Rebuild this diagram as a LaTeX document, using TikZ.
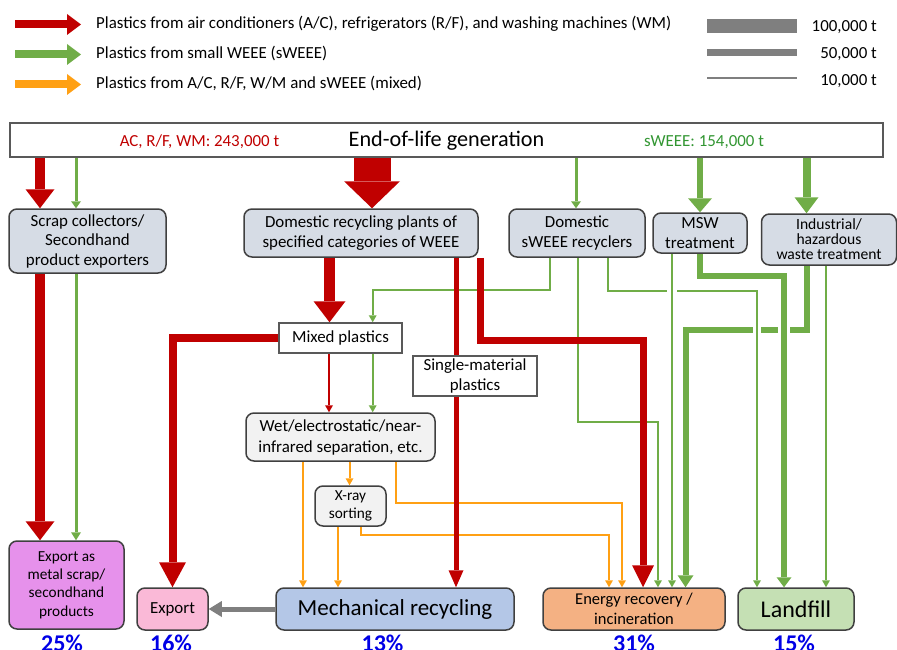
\documentclass[tikz,border=0pt]{standalone}
\usepackage{fontspec}
\setmainfont{Carlito}
\usetikzlibrary{arrows.meta}
\pgfdeclarelayer{flows}
\pgfsetlayers{flows,main}

\definecolor{flowred}{RGB}{192,0,0}
\definecolor{flowgreen}{RGB}{112,173,71}
\definecolor{floworange}{RGB}{255,160,20}
\definecolor{flowgray}{RGB}{127,127,127}
\definecolor{boxgray}{RGB}{214,220,229}
\definecolor{lightbox}{RGB}{242,242,242}
\definecolor{edgegray}{RGB}{64,64,64}
\definecolor{framegray}{RGB}{89,89,89}
\definecolor{metalviolet}{RGB}{230,145,235}
\definecolor{exportpink}{RGB}{250,185,215}
\definecolor{mechblue}{RGB}{180,199,231}
\definecolor{energyorange}{RGB}{244,177,131}
\definecolor{landgreen}{RGB}{197,224,180}
\definecolor{pctblue}{RGB}{0,0,230}
\definecolor{labelgreen}{RGB}{50,150,50}

\newcommand\fsz[2]{\fontsize{#1}{#2}\selectfont}

\tikzset{
  x=1pt, y=-1pt,
  stage/.style={draw=edgegray, line width=1.5pt, rounded corners=8pt, fill=boxgray,
    align=center, inner sep=2pt, font=\fsz{16.9}{20}},
  plainbox/.style={draw=framegray, line width=1.5pt, fill=white, align=center,
    inner sep=2pt, font=\fsz{16.9}{20}},
  pct/.style={text=pctblue, font=\fsz{24}{28}\bfseries, anchor=base, inner sep=0pt},
  legtext/.style={font=\fsz{16.9}{20}, inner sep=0pt},
  fr/.style={draw=flowred, line width=#1},
  fg/.style={draw=flowgreen, line width=#1},
  fo/.style={draw=floworange, line width=2pt, -{Triangle[width=8pt,length=7pt,line width=0pt]}},
  ahead/.style 2 args={-{Triangle[width=#1,length=#2,line width=0pt]}},
  bridge/.style={preaction={draw=white, line width=#1, arrows=-}},
}

\begin{document}
\begin{tikzpicture}
\useasboundingbox (0,0) rectangle (897,650);

% legend: flow colours
\draw[flowred, line width=8pt, ahead={21pt}{14pt}] (15,24.5) -- (81,24.5);
\draw[flowgreen, line width=8pt, ahead={21pt}{14pt}] (15,54.5) -- (81,54.5);
\draw[floworange, line width=8pt, ahead={21pt}{14pt}] (15,84.5) -- (81,84.5);
\node[legtext, anchor=base west] (legA) at (96,29) {Plastics from air conditioners (A/C), refrigerators (R/F), and washing machines (WM)};
\node[legtext, anchor=base west] (legB) at (96,59) {Plastics from small WEEE (sWEEE)};
\node[legtext, anchor=base west] (legC) at (96,89) {Plastics from A/C, R/F, W/M and sWEEE (mixed)};

% legend: flow widths
\fill[flowgray] (707,19) rectangle (797,33);
\fill[flowgray] (707,49) rectangle (797,56);
\fill[flowgray] (707,77.5) rectangle (797,79.5);
\node[legtext, anchor=base east] (w100) at (877,32) {100,000 t};
\node[legtext, anchor=base east] (w50) at (877,58.5) {50,000 t};
\node[legtext, anchor=base east] (w10) at (877,86) {10,000 t};

% generation bar
\node[draw=framegray, line width=1.5pt, fill=white, minimum width=873pt, minimum height=34pt] (top) at (446.5,140) {};
\node[font=\fsz{22.2}{26}, anchor=base, inner sep=0pt] (eol) at (446.5,147) {End-of-life generation};
\node[legtext, text=flowred, anchor=base] (acl) at (199.5,147) {AC, R/F, WM: 243,000 t};
\node[legtext, text=labelgreen, anchor=base] (swl) at (704,147) {sWEEE: 154,000 t};

% collection and treatment
\node[stage, minimum width=157pt, minimum height=64pt, font=\fsz{16.9}{19.5}] (scrap) at (87.5,241) {Scrap collectors/\\Secondhand\\product exporters};
\node[stage, minimum width=234pt, minimum height=48pt] (drp) at (361,233) {Domestic recycling plants of\\specified categories of WEEE};
\node[stage, minimum width=136pt, minimum height=48pt, font=\fsz{16.9}{20.5}] (dsr) at (577,233) {Domestic\\sWEEE recyclers};
\node[stage, minimum width=94pt, minimum height=40pt, font=\fsz{16.9}{20.5}] (msw) at (700,233) {MSW\\treatment};
\node[stage, minimum width=135pt, minimum height=51pt, font=\fsz{15.6}{15}] (ind) at (829,239.5) {Industrial/\\hazardous\\waste treatment};

% sorting stages
\node[plainbox, minimum width=123pt, minimum height=30pt] (mixed) at (340.5,338) {Mixed plastics};
\node[plainbox, minimum width=124pt, minimum height=40pt] (single) at (475,376) {Single-material\\plastics};
\node[stage, fill=lightbox, minimum width=189pt, minimum height=48pt, font=\fsz{16.9}{21}] (wet) at (340.5,437) {Wet/electrostatic/near-\\infrared separation, etc.};
\node[stage, fill=lightbox, minimum width=71pt, minimum height=40pt, font=\fsz{15.3}{17.5}] (xray) at (350.5,506) {X-ray\\sorting};

% final destinations
\node[stage, fill=metalviolet, minimum width=115pt, minimum height=88pt, font=\fsz{15.3}{18.3}] (metal) at (66.5,585) {Export as\\metal scrap/\\secondhand\\products};
\node[stage, fill=exportpink, minimum width=71pt, minimum height=42pt] (export) at (172.5,609) {Export};
\node[stage, fill=mechblue, minimum width=238pt, minimum height=42pt, font=\fsz{23}{26}] (mech) at (395,609) {Mechanical recycling};
\node[stage, fill=energyorange, minimum width=182pt, minimum height=42pt, font=\fsz{16.5}{20}] (energy) at (634,609) {Energy recovery /\\incineration};
\node[stage, fill=landgreen, minimum width=116pt, minimum height=42pt, font=\fsz{24}{26}] (landfill) at (796,609) {Landfill};

% shares
\node[pct] (p1) at (62,651) {25\%};
\node[pct] (p2) at (171,651) {16\%};
\node[pct] (p3) at (382.5,651) {13\%};
\node[pct] (p4) at (634,651) {31\%};
\node[pct] (p5) at (794,651) {15\%};

\begin{pgfonlayer}{flows}
  % generation to collection
  \draw[fr=10pt, ahead={29pt}{19pt}] (40,0 |- top.south) -- (40,0 |- scrap.north);
  \draw[fg=3pt, ahead={10pt}{7pt}] (76,0 |- top.south) -- (76,0 |- scrap.north);
  \draw[fr=37pt, ahead={56pt}{27pt}] (372,0 |- top.south) -- (372,0 |- drp.north);
  \draw[fg=3pt, ahead={10pt}{7pt}] (576,0 |- top.south) -- (576,0 |- dsr.north);
  \draw[fg=6pt, ahead={24pt}{14pt}] (700,0 |- top.south) -- (700,0 |- msw.north);
  \draw[fg=8pt, ahead={24pt}{16pt}] (806.5,0 |- top.south) -- (806.5,0 |- ind.north);

  % scrap collectors
  \draw[fg=3pt, ahead={10pt}{8pt}] (76,0 |- scrap.south) -- (76,0 |- metal.north);
  \draw[fr=10pt, ahead={29pt}{19pt}] (40,0 |- scrap.south) -- (40,0 |- metal.north);

  % industrial / hazardous waste
  \draw[fg=6pt, ahead={16pt}{12pt}] (806.5,0 |- ind.south) |- (685.5,330) -- (685.5,0 |- energy.north);
  \draw[fg=2pt, ahead={8pt}{7pt}] (826,0 |- ind.south) -- (826,0 |- landfill.north);

  % domestic sWEEE recyclers
  \draw[fg=2pt, bridge=8pt, ahead={8pt}{7pt}] (608,0 |- dsr.south) |- (757,291) -- (757,0 |- landfill.north);
  \draw[fg=2pt, ahead={8pt}{7pt}] (550,0 |- dsr.south) |- (372.7,290) -- (372.7,0 |- mixed.north);
  \draw[fg=2pt, ahead={8pt}{7pt}] (578,0 |- dsr.south) |- (658,422) -- (658,0 |- energy.north);

  % MSW treatment
  \draw[fg=2pt, bridge=10pt, ahead={8pt}{7pt}] (672,0 |- msw.south) -- (672,0 |- energy.north);
  \draw[fg=6pt, bridge=12pt, ahead={15pt}{10pt}] (700,0 |- msw.south) |- (784,275.5) -- (784,0 |- landfill.north);

  % mixed plastics to separation
  \draw[fg=2pt, ahead={8pt}{7pt}] (372.7,0 |- mixed.south) -- (372.7,0 |- wet.north);
  \draw[fr=2.5pt, ahead={8pt}{7pt}] (329,0 |- mixed.south) -- (329,0 |- wet.north);

  % separation and X-ray sorting
  \draw[fo] (303,0 |- wet.south) -- (303,0 |- mech.north);
  \draw[fo] (349.5,0 |- wet.south) -- (349.5,0 |- xray.north);
  \draw[fo] (396,0 |- wet.south) |- (622,503) -- (622,0 |- energy.north);
  \draw[fo] (338,0 |- xray.south) -- (338,0 |- mech.north);
  \draw[fo] (361,0 |- xray.south) |- (609,535) -- (609,0 |- energy.north);

  % domestic recycling plants
  \draw[fr=11pt, ahead={32pt}{21pt}] (329.5,0 |- drp.south) -- (329.5,0 |- mixed.north);
  \draw[fr=5pt, ahead={15pt}{17pt}] (456,0 |- drp.south) -- (456,0 |- mech.north);
  \draw[fr=7pt, ahead={22pt}{22pt}] (480,0 |- drp.south) |- (643,340) -- (643,0 |- energy.north);
  \draw[fr=8pt, ahead={27pt}{25pt}] (mixed.west) -| (export.north);

  % recycled material exported
  \draw[draw=flowgray, line width=5pt, ahead={16pt}{13pt}] (mech.west) -- (export.east);
\end{pgfonlayer}
\end{tikzpicture}
\end{document}
